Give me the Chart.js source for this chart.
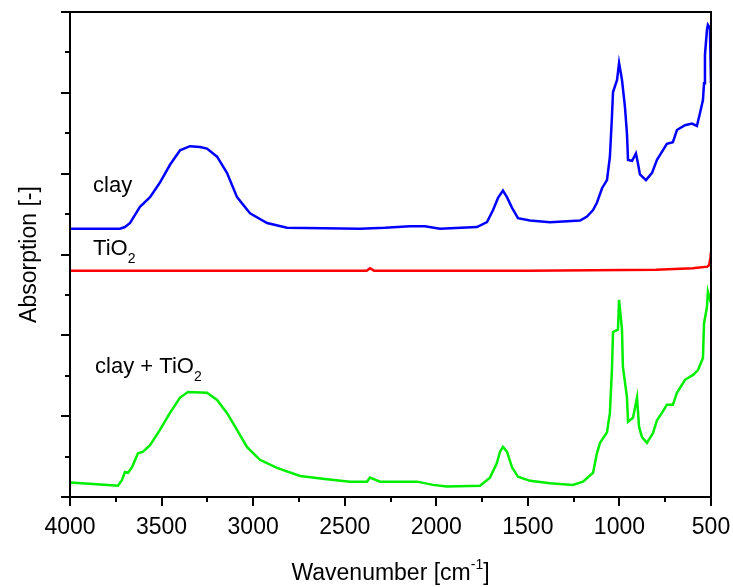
<!DOCTYPE html>
<html>
<head>
<meta charset="utf-8">
<script src="https://cdn.jsdelivr.net/npm/chart.js@4/dist/chart.umd.min.js"></script>
<style>
  html, body { margin: 0; padding: 0; background: #fff; }
  #wrap { width: 733px; height: 587px; }
</style>
</head>
<body>
<div id="wrap"><canvas id="ftir" width="733" height="587"></canvas></div>
<script>
// FTIR spectra (wavenumber in cm-1, absorption in arbitrary units)
const wnClay = [4000, 3727, 3700, 3672, 3645, 3618, 3563, 3509, 3454, 3399, 3345, 3290, 3252, 3197, 3143, 3088, 3017, 2924, 2815, 2416, 2280, 2144, 2062, 1980, 1778, 1723, 1690, 1663, 1636, 1614, 1587, 1554, 1488, 1379, 1215, 1177, 1144, 1123, 1095, 1068, 1052, 1041, 1035, 1013, 1002, 986, 970, 959, 953, 931, 910, 899, 888, 855, 822, 795, 768, 741, 708, 686, 642, 604, 577, 560, 544, 538, 533, 522, 517, 506, 500];
const absClay = [3.32, 3.32, 3.34, 3.39, 3.49, 3.59, 3.71, 3.89, 4.11, 4.29, 4.34, 4.33, 4.31, 4.21, 4.01, 3.71, 3.51, 3.39, 3.33, 3.32, 3.33, 3.35, 3.35, 3.32, 3.34, 3.40, 3.55, 3.70, 3.79, 3.71, 3.58, 3.45, 3.42, 3.40, 3.42, 3.47, 3.55, 3.64, 3.82, 3.92, 4.21, 4.70, 5.01, 5.16, 5.37, 5.16, 4.83, 4.50, 4.17, 4.16, 4.25, 4.13, 3.99, 3.92, 4.01, 4.17, 4.27, 4.37, 4.39, 4.54, 4.60, 4.62, 4.59, 4.75, 4.91, 5.12, 5.47, 5.78, 5.84, 5.80, 5.12];

const wnTiO2 = [4000, 3000, 2380, 2362, 2340, 1500, 800, 600, 520, 510, 503, 500];
const absTiO2 = [2.80, 2.80, 2.80, 2.83, 2.80, 2.80, 2.81, 2.83, 2.85, 2.87, 2.96, 3.03];

const wnMix = [4000, 3874, 3738, 3716, 3700, 3683, 3661, 3629, 3601, 3563, 3509, 3454, 3399, 3356, 3252, 3197, 3143, 3088, 3034, 2963, 2870, 2744, 2597, 2471, 2378, 2362, 2307, 2105, 2018, 1942, 1761, 1707, 1669, 1652, 1636, 1614, 1587, 1554, 1488, 1379, 1254, 1199, 1144, 1123, 1106, 1068, 1052, 1041, 1035, 1008, 1002, 986, 981, 959, 953, 926, 904, 893, 877, 850, 817, 795, 768, 741, 708, 686, 642, 598, 571, 544, 538, 522, 517, 500];
const absMix = [0.18, 0.16, 0.14, 0.21, 0.31, 0.30, 0.37, 0.54, 0.56, 0.64, 0.83, 1.04, 1.23, 1.30, 1.29, 1.20, 1.04, 0.83, 0.62, 0.46, 0.36, 0.26, 0.22, 0.19, 0.19, 0.24, 0.19, 0.19, 0.15, 0.13, 0.14, 0.24, 0.42, 0.56, 0.62, 0.56, 0.37, 0.25, 0.20, 0.17, 0.15, 0.19, 0.30, 0.54, 0.67, 0.80, 1.04, 1.57, 2.04, 2.07, 2.44, 2.07, 1.61, 1.24, 0.93, 0.98, 1.23, 0.87, 0.74, 0.67, 0.79, 0.95, 1.04, 1.14, 1.14, 1.29, 1.45, 1.51, 1.57, 1.72, 2.15, 2.35, 2.54, 2.40];

const xTickStep = 250;   // labelled every 500
const yTickStep = 0.5;   // long tick every 1

const FONT = '"Liberation Sans", Arial, sans-serif';

function pts(xs, ys) {
  return xs.map((x, i) => ({ x: x, y: ys[i] }));
}

// frame, tick marks, axis titles and curve labels
const decorations = {
  id: 'decorations',
  afterDraw(chart) {
    const { ctx, chartArea: a, scales: { x, y } } = chart;
    ctx.save();
    ctx.strokeStyle = '#000';
    ctx.lineWidth = 2;
    ctx.strokeRect(a.left, a.top, a.right - a.left, a.bottom - a.top);

    ctx.beginPath();
    x.ticks.forEach(t => {
      const px = Math.round(x.getPixelForValue(t.value));
      const len = t.value % 500 === 0 ? 9 : 5;
      ctx.moveTo(px, a.bottom);
      ctx.lineTo(px, a.bottom + len);
    });
    y.ticks.forEach(t => {
      const py = Math.round(y.getPixelForValue(t.value));
      const len = t.value % 1 === 0 ? 9 : 5;
      ctx.moveTo(a.left, py);
      ctx.lineTo(a.left - len, py);
    });
    ctx.stroke();

    ctx.fillStyle = '#000';
    ctx.textBaseline = 'alphabetic';

    // x title with superscript
    const big = '23px ' + FONT, small = '14px ' + FONT;
    ctx.font = big;
    const p1 = 'Wavenumber [cm', p3 = ']';
    ctx.font = small; const w2 = ctx.measureText('-1').width;
    ctx.font = big;
    const w1 = ctx.measureText(p1).width, w3 = ctx.measureText(p3).width;
    let sx = (a.left + a.right) / 2 - (w1 + w2 + w3) / 2;
    const by = 580;
    ctx.textAlign = 'left';
    ctx.fillText(p1, sx, by);
    ctx.font = small;
    ctx.fillText('-1', sx + w1, by - 11);
    ctx.font = big;
    ctx.fillText(p3, sx + w1 + w2, by);

    // y title
    ctx.save();
    ctx.translate(36, (a.top + a.bottom) / 2);
    ctx.rotate(-Math.PI / 2);
    ctx.textAlign = 'center';
    ctx.font = big;
    ctx.fillText('Absorption [-]', 0, 0);
    ctx.restore();

    // curve labels
    const lab = '22px ' + FONT, sub = '14px ' + FONT;
    function label(text, subText, wn, v) {
      const lx = x.getPixelForValue(wn), ly = y.getPixelForValue(v);
      ctx.font = lab;
      ctx.textAlign = 'left';
      ctx.fillText(text, lx, ly);
      if (subText) {
        const w = ctx.measureText(text).width;
        ctx.font = sub;
        ctx.fillText(subText, lx + w, ly + 8);
      }
    }
    label('clay', '', 3874, 3.77);
    label('TiO', '2', 3874, 3.0);
    label('clay + TiO', '2', 3863, 1.53);
    ctx.restore();
  }
};

new Chart(document.getElementById('ftir'), {
  type: 'line',
  data: {
    datasets: [
      { label: 'clay', data: pts(wnClay, absClay), borderColor: '#0000ff' },
      { label: 'TiO2', data: pts(wnTiO2, absTiO2), borderColor: '#ff0000' },
      { label: 'clay + TiO2', data: pts(wnMix, absMix), borderColor: '#00ee00' }
    ]
  },
  options: {
    responsive: false,
    animation: false,
    events: [],
    elements: {
      line: { borderWidth: 2.5, tension: 0, fill: false },
      point: { radius: 0 }
    },
    layout: { padding: { left: 0, right: 22, top: 12, bottom: 0 } },
    plugins: { legend: { display: false }, tooltip: { enabled: false } },
    scales: {
      x: {
        type: 'linear',
        reverse: true,
        min: 500,
        max: 4000,
        afterFit(s) { s.height = 90; s.paddingLeft = 0; s.paddingRight = 0; },
        grid: { display: false, drawTicks: false },
        border: { display: false },
        ticks: {
          stepSize: xTickStep,
          autoSkip: false,
          maxRotation: 0,
          padding: 17,
          color: '#000',
          font: { family: FONT, size: 23 },
          callback: v => (v % 500 === 0 ? String(v) : '')
        }
      },
      y: {
        min: 0,
        max: 6,
        afterFit(s) { s.width = 70; s.paddingTop = 0; s.paddingBottom = 0; },
        grid: { display: false, drawTicks: false },
        border: { display: false },
        ticks: { stepSize: yTickStep, display: false }
      }
    }
  },
  plugins: [decorations]
});
</script>
</body>
</html>
